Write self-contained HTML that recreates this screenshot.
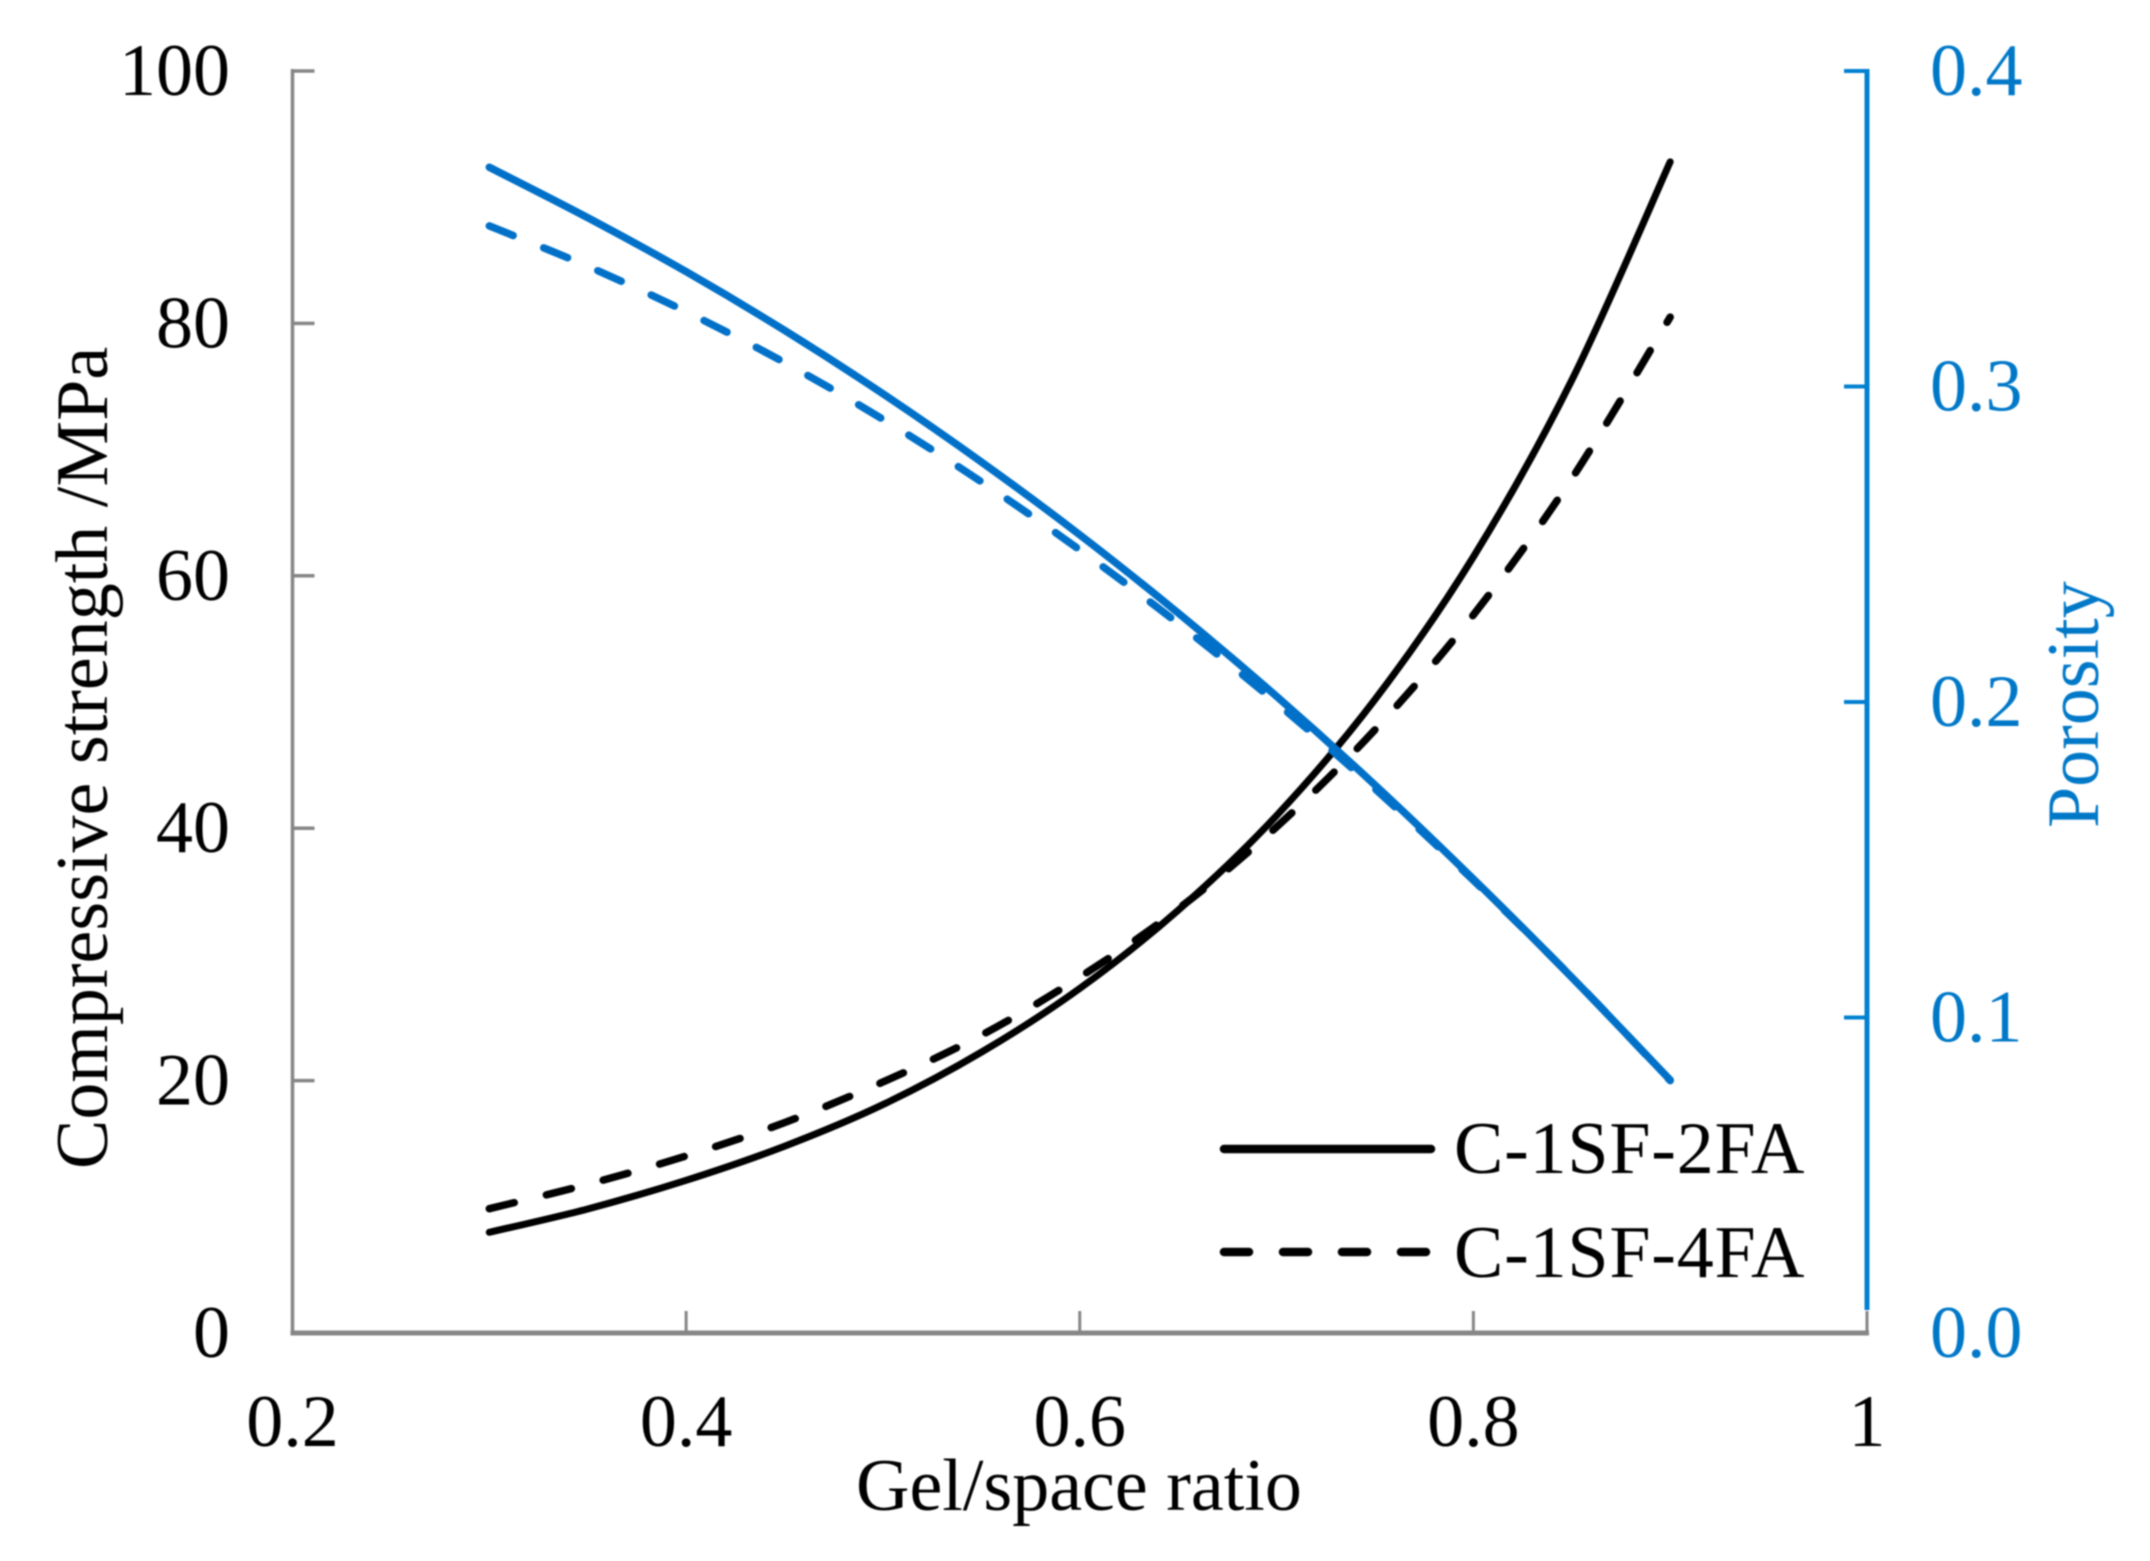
<!DOCTYPE html>
<html lang="en">
<head>
<meta charset="utf-8">
<title>Compressive strength and porosity vs gel/space ratio</title>
<style>
html,body{margin:0;padding:0;background:#fff;width:2150px;height:1561px;overflow:hidden}
svg{display:block;filter:blur(.8px)}
text{font-family:"Liberation Serif",serif;font-size:74px}
.blue{fill:#0078c8}
.black{fill:#000}
</style>
</head>
<body>
<svg id="chart" xmlns="http://www.w3.org/2000/svg" width="2150" height="1561" viewBox="0 0 2150 1561">
  <rect x="0" y="0" width="2150" height="1561" fill="#fff"/>
  <g id="axes"></g>
  <g id="series"></g>
  <text class="black" x="856" y="1510">Gel/space ratio</text>
  <text class="black" transform="translate(107 1169) rotate(-90)">Compressive strength /MPa</text>
  <text class="blue" transform="translate(2098 828) rotate(-90)">Porosity</text>
  <g>
    <line x1="1224" y1="1149" x2="1431" y2="1149" stroke="#000" stroke-width="8.5" stroke-linecap="round"/>
    <text class="black" x="1454" y="1173" letter-spacing="0.8">C-1SF-2FA</text>
    <line x1="1224" y1="1252" x2="1428" y2="1252" stroke="#000" stroke-width="8.5" stroke-linecap="round" stroke-dasharray="25 34"/>
    <text class="black" x="1454" y="1277" letter-spacing="0.8">C-1SF-4FA</text>
  </g>
</svg>
<script>
const gelSpaceRatio = [0.30,0.35,0.40,0.45,0.50,0.55,0.60,0.65,0.70,0.75,0.80,0.85,0.90];
const strength2FA = [7.98,9.83,12.1,14.8,18.1,22.25,27.3,33.5,41.0,50.2,61.5,75.5,92.8];
const strength4FA = [9.85,11.78,14.03,16.67,19.89,23.6,28.2,33.6,40.1,47.8,56.9,67.7,80.5];
const porosity2FA = [0.3695,0.3535,0.3364,0.3178,0.2977,0.2761,0.2530,0.2282,0.2018,0.1737,0.1439,0.1127,0.0802];
const porosity4FA = [0.3509,0.3381,0.3237,0.3076,0.2896,0.2698,0.2482,0.2249,0.1997,0.1725,0.1435,0.1128,0.08];
const xTickValues = [0.2,0.4,0.6,0.8,1];
const xTickLabels = ["0.2","0.4","0.6","0.8","1"];
const leftTickValues = [0,20,40,60,80,100];
const leftTickLabels = ["0","20","40","60","80","100"];
const rightTickValues = [0,0.1,0.2,0.3,0.4];
const rightTickLabels = ["0.0","0.1","0.2","0.3","0.4"];

const NS = "http://www.w3.org/2000/svg";
const PLOT = {left:292.5,right:1867,top:71,bottom:1333};
function xScale(v){return PLOT.left+(v-0.2)/0.8*(PLOT.right-PLOT.left);}
function leftScale(v){return PLOT.bottom-v/100*(PLOT.bottom-PLOT.top);}
function rightScale(v){return PLOT.bottom-v/0.4*(PLOT.bottom-PLOT.top);}
function make(tag,parent,attrs){
  const el=document.createElementNS(NS,tag);
  for(const k in attrs){el.setAttribute(k,attrs[k]);}
  parent.appendChild(el);
  return el;
}
function smoothPath(pts){
  let d="M"+pts[0][0].toFixed(2)+" "+pts[0][1].toFixed(2);
  for(let i=0;i<pts.length-1;i++){
    const p0=pts[Math.max(i-1,0)],p1=pts[i],p2=pts[i+1],p3=pts[Math.min(i+2,pts.length-1)];
    const c1x=p1[0]+(p2[0]-p0[0])/6,c1y=p1[1]+(p2[1]-p0[1])/6;
    const c2x=p2[0]-(p3[0]-p1[0])/6,c2y=p2[1]-(p3[1]-p1[1])/6;
    d+="C"+c1x.toFixed(2)+" "+c1y.toFixed(2)+" "+c2x.toFixed(2)+" "+c2y.toFixed(2)+" "+p2[0].toFixed(2)+" "+p2[1].toFixed(2);
  }
  return d;
}
const axes=document.getElementById("axes");
const series=document.getElementById("series");
const GREY="#868686",AXISBLUE="#0080d0",TEXTBLUE="#0078c8";

const leftAxis=make("line",axes,{x1:PLOT.left,y1:PLOT.top-2,x2:PLOT.left,y2:PLOT.bottom,stroke:GREY,"stroke-width":3.5});


const rightAxis=make("line",axes,{x1:PLOT.right,y1:PLOT.top-2,x2:PLOT.right,y2:PLOT.bottom-23,stroke:AXISBLUE,"stroke-width":5});


const bottomAxis=make("line",axes,{x1:PLOT.left-2,y1:PLOT.bottom,x2:PLOT.right+2,y2:PLOT.bottom,stroke:GREY,"stroke-width":5});



xTickValues.forEach(function(v,i){
  const x=xScale(v);
  if(i>0){
    const t=make("line",axes,{x1:x,y1:PLOT.bottom-22,x2:x,y2:PLOT.bottom,stroke:GREY,"stroke-width":3});
    
    
  }
  const l=make("text",axes,{x:x,y:1446,"text-anchor":"middle",fill:"#000"});
  l.textContent=xTickLabels[i];
  
  
});
leftTickValues.forEach(function(v,i){
  const y=leftScale(v);
  if(v>0){
    const t=make("line",axes,{x1:PLOT.left,y1:y,x2:PLOT.left+22,y2:y,stroke:GREY,"stroke-width":3.5});
    
    
  }
  const l=make("text",axes,{x:230,y:y+24,"text-anchor":"end",fill:"#000"});
  l.textContent=leftTickLabels[i];
  
  
});
rightTickValues.forEach(function(v,i){
  const y=rightScale(v);
  if(v>0){
    const t=make("line",axes,{x1:PLOT.right-23,y1:y,x2:PLOT.right,y2:y,stroke:AXISBLUE,"stroke-width":4});
    
    
  }
  const l=make("text",axes,{x:1930,y:y+24,"text-anchor":"start",fill:TEXTBLUE});
  l.textContent=rightTickLabels[i];
  
  
});
function drawSeries(values,scale,color,width,dash){
  const pts=gelSpaceRatio.map(function(g,i){return [xScale(g),scale(values[i])];});
  const attrs={d:smoothPath(pts),fill:"none",stroke:color,"stroke-width":width,"stroke-linecap":"round","stroke-linejoin":"round"};
  if(dash){attrs["stroke-dasharray"]=dash;}
  return make("path",series,attrs);
}
const s2=drawSeries(strength4FA,leftScale,"#000",7.5,"25.7 33");


const s1=drawSeries(strength2FA,leftScale,"#000",7,null);


const p2=drawSeries(porosity4FA,rightScale,"#0070c8",7.5,"25.7 33");


const p1=drawSeries(porosity2FA,rightScale,"#0070c8",7.5,null);


</script>
</body>
</html>
